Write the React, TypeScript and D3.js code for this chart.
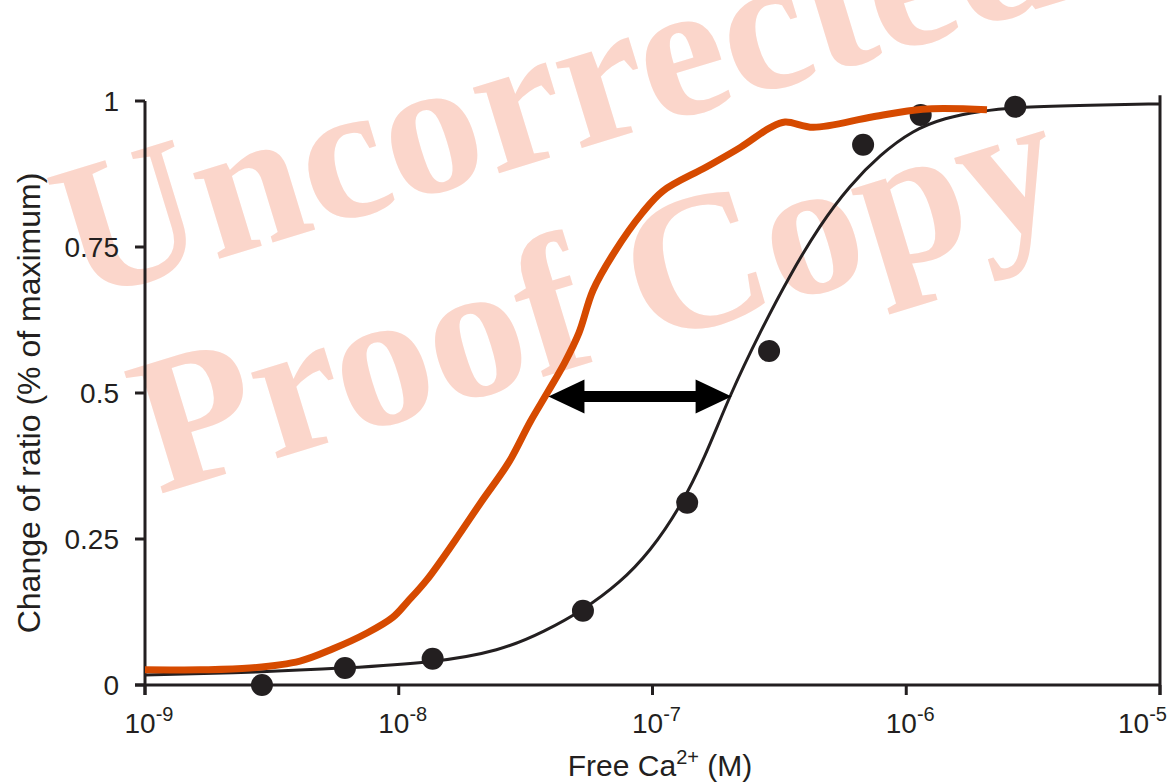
import React from "react";
import * as d3 from "d3";

// measured points (free Ca2+ in M, normalised change of ratio)
const pointCa = [2.89e-9, 6.14e-9, 1.36e-8, 5.32e-8, 1.37e-7, 2.88e-7, 6.76e-7, 1.14e-6, 2.69e-6];
const pointRatio = [0.0, 0.029, 0.045, 0.127, 0.312, 0.572, 0.925, 0.976, 0.99];

// fitted curve through the measured points (black)
const fitCa = [
  1e-9, 2.89e-9, 6.14e-9, 1.36e-8, 2.51e-8, 3.77e-8, 5.32e-8, 7.45e-8, 9.77e-8, 1.29e-7, 1.61e-7,
  2.02e-7, 2.65e-7, 3.48e-7, 4.57e-7, 6.0e-7, 7.89e-7, 1.06e-6, 1.42e-6, 1.95e-6, 2.81e-6, 5.3e-6, 1e-5,
];
const fitRatio = [
  0.017, 0.022, 0.029, 0.038, 0.058, 0.092, 0.128, 0.175, 0.228, 0.305, 0.39, 0.497, 0.604, 0.702,
  0.788, 0.856, 0.908, 0.95, 0.971, 0.983, 0.99, 0.993, 0.995,
];

// shifted response (orange)
const shiftCa = [
  1e-9, 1.65e-9, 2.59e-9, 4.08e-9, 5.51e-9, 7.5e-9, 9.48e-9, 1.08e-8, 1.29e-8, 1.67e-8, 2.11e-8,
  2.72e-8, 3.29e-8, 3.87e-8, 4.52e-8, 5.13e-8, 5.83e-8, 7.05e-8, 9.1e-8, 1.1e-7, 1.63e-7, 2.23e-7,
  2.9e-7, 3.33e-7, 4.3e-7, 7.4e-7, 1.16e-6, 2.08e-6,
];
const shiftRatio = [
  0.026, 0.026, 0.029, 0.041, 0.062, 0.089, 0.116, 0.142, 0.18, 0.248, 0.313, 0.382, 0.45, 0.502,
  0.553, 0.603, 0.676, 0.74, 0.808, 0.846, 0.887, 0.921, 0.954, 0.964, 0.955, 0.973, 0.986, 0.985,
];

const arrowFrom = 3.89e-8;
const arrowTo = 2.05e-7;
const arrowLevel = 0.494;

const yTicks = [0, 0.25, 0.5, 0.75, 1];
const yTickLabels = ["0", "0.25", "0.5", "0.75", "1"];
const xTicks = [1e-9, 1e-8, 1e-7, 1e-6, 1e-5];
const xTickExp = ["-9", "-8", "-7", "-6", "-5"];

const W = 1169;
const H = 784;
const ink = "#231f20";
const orange = "#d64a00";
const sans = "'Liberation Sans', Arial, Helvetica, sans-serif";

export default function App() {
  const x = d3.scaleLog().domain([1e-9, 1e-5]).range([145, 1160]);
  const y = d3.scaleLinear().domain([0, 1]).range([685, 101]);

  const fitLine = d3
    .line<number>()
    .x((d, i) => x(fitCa[i]))
    .y((d) => y(d))
    .curve(d3.curveBasis);

  const shiftLine = d3
    .line<number>()
    .x((d, i) => x(shiftCa[i]))
    .y((d) => y(d))
    .curve(d3.curveCatmullRom.alpha(0.5));

  // double headed arrow
  const ax1 = x(arrowFrom);
  const ax2 = x(arrowTo);
  const ay = y(arrowLevel);
  const hl = 36;
  const hh = 17;
  const st = 5.5;
  const arrow = [
    [ax1, ay],
    [ax1 + hl, ay - hh],
    [ax1 + hl, ay - st],
    [ax2 - hl, ay - st],
    [ax2 - hl, ay - hh],
    [ax2, ay],
    [ax2 - hl, ay + hh],
    [ax2 - hl, ay + st],
    [ax1 + hl, ay + st],
    [ax1 + hl, ay + hh],
  ]
    .map((p) => p.join(","))
    .join(" ");

  const x0 = x.range()[0];
  const x1 = x.range()[1];
  const yb = y(0);
  const last = xTicks.length - 1;

  return (
    <svg width={W} height={H} style={{ position: "absolute", left: 0, top: 0, background: "#fff" }}>
      {/* watermark */}
      <g fill="#fbd6cb" fontFamily="'Liberation Serif', 'Times New Roman', serif" fontWeight="bold" fontSize={195} textAnchor="middle">
        <text transform="translate(575,150) rotate(-17)">Uncorrected</text>
        <text transform="translate(615,355) rotate(-17)">Proof Copy</text>
      </g>

      {/* axes */}
      <g stroke={ink} strokeWidth={3} fill="none">
        <line x1={x0} y1={y(1)} x2={x0} y2={yb + 10} />
        <line x1={x0 - 10} y1={yb} x2={x1} y2={yb} />
        <line x1={x1} y1={y(1.01)} x2={x1} y2={yb + 10} />
        {yTicks.map((t) => (
          <line key={t} x1={x0 - 10} y1={y(t)} x2={x0} y2={y(t)} />
        ))}
        {xTicks.map((t) => (
          <line key={t} x1={x(t)} y1={yb} x2={x(t)} y2={yb + 10} />
        ))}
      </g>

      <g fontFamily={sans} fill={ink} fontSize={28}>
        {yTicks.map((t, i) => (
          <text key={t} x={x0 - 26} y={y(t) + 10} textAnchor="end">
            {yTickLabels[i]}
          </text>
        ))}
        {xTicks.map((t, i) => (
          <text
            key={t}
            x={i === last ? x(t) + 7 : x(t) + 4}
            y={yb + 48}
            textAnchor={i === last ? "end" : "middle"}
          >
            10
            <tspan fontSize={20} dy={-12}>
              {xTickExp[i]}
            </tspan>
          </text>
        ))}
        <text x={660} y={776} textAnchor="middle" fontSize={30}>
          Free Ca
          <tspan fontSize={20} dy={-12}>
            2+
          </tspan>
          <tspan dy={12}> (M)</tspan>
        </text>
        <text transform="translate(40,403) rotate(-90)" textAnchor="middle" fontSize={32}>
          Change of ratio (% of maximum)
        </text>
      </g>

      {/* fitted curve */}
      <path d={fitLine(fitRatio) ?? ""} fill="none" stroke={ink} strokeWidth={3} />

      {/* measured points */}
      {pointRatio.map((v, i) => (
        <circle key={i} cx={x(pointCa[i])} cy={y(v)} r={11} fill={ink} />
      ))}

      {/* shifted response */}
      <path d={shiftLine(shiftRatio) ?? ""} fill="none" stroke={orange} strokeWidth={7} strokeLinejoin="round" />

      <polygon points={arrow} fill="#000" />
    </svg>
  );
}
